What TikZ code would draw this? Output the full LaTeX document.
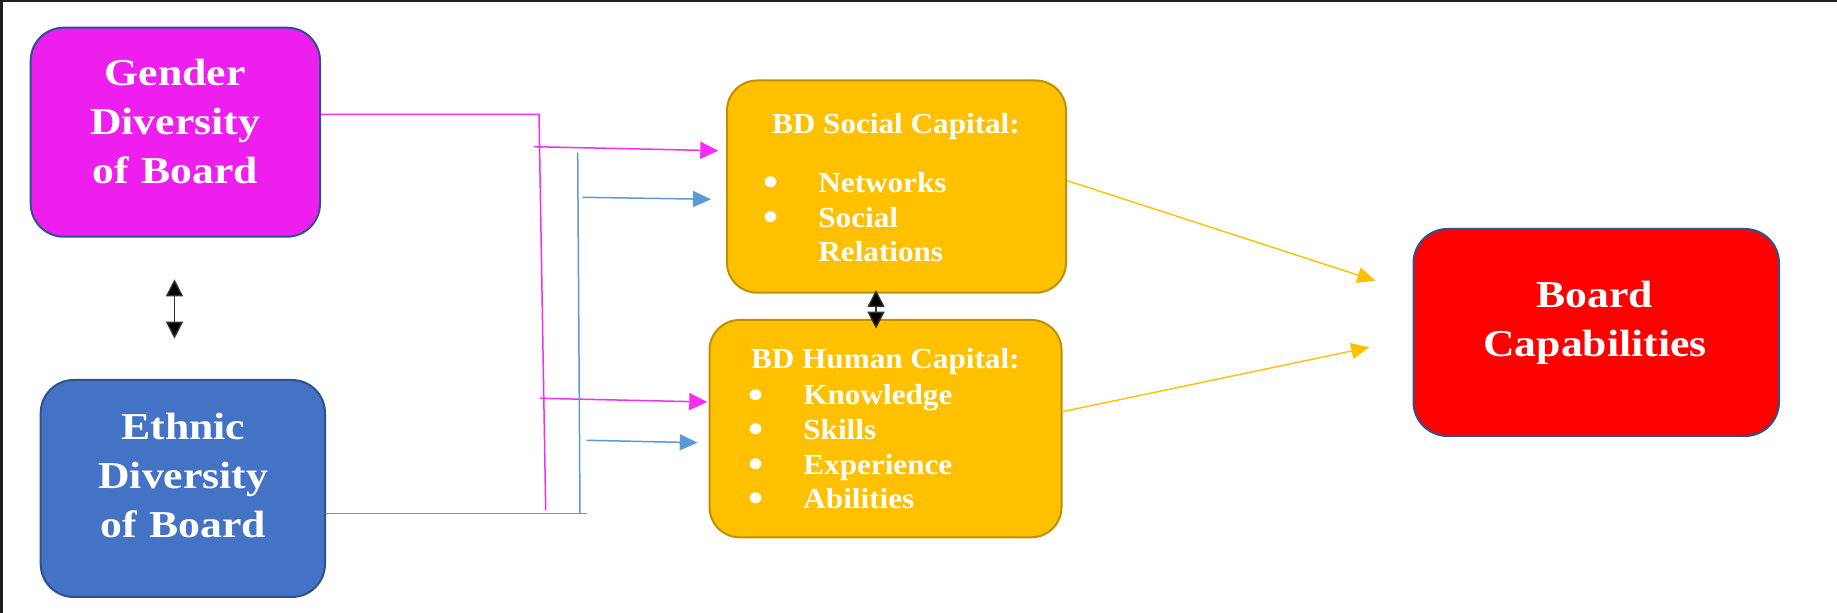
\documentclass[tikz,border=0pt]{standalone}
\usepackage{fontspec}
\setmainfont{Liberation Serif}
\newfontfamily\bigfont[FakeStretch=1.15]{Liberation Serif}
\newfontfamily\smallfont[FakeStretch=1.075]{Liberation Serif}
\usetikzlibrary{arrows.meta}

\definecolor{magentafill}{RGB}{238,30,238}
\definecolor{magentaline}{RGB}{245,45,245}
\definecolor{bluefill}{HTML}{4472C4}
\definecolor{boxedge}{HTML}{2F528F}
\definecolor{bluelink}{HTML}{5B9BD5}
\definecolor{goldfill}{HTML}{FFC000}
\definecolor{goldedge}{HTML}{BF9000}
\definecolor{screenframe}{RGB}{30,31,34}

% list bullet: a slightly enlarged, lowered dot in a fixed-width slot
\newcommand\itembul{\makebox[27.5pt][l]{\raisebox{-1.6pt}{\fontsize{20}{0}\selectfont\textbullet}}}

\begin{document}
\begin{tikzpicture}[x=0.5pt,y=-0.5pt,
  box/.style={draw, line width=1pt, inner sep=0pt},
  bigtext/.style={text=white, inner sep=0pt, text width=150pt, align=center,
    font=\bigfont\bfseries\fontsize{19}{24.5}\selectfont},
  smalltext/.style={text=white, inner sep=0pt,
    font=\smallfont\bfseries\fontsize{14.5}{17.3}\selectfont},
  listtext/.style={smalltext, text width=140pt, align=left},
  pinklink/.style={draw=magentaline, line width=0.75pt},
  bluelinkstyle/.style={draw=bluelink, line width=0.75pt},
  pinkarrow/.style={pinklink, -{Triangle[length=9pt,width=8.5pt]}},
  bluearrow/.style={bluelinkstyle, -{Triangle[length=9pt,width=8pt]}},
  goldarrow/.style={draw=goldfill, line width=0.7pt, -{Triangle[length=9pt,width=8pt]}},
  twoway/.style={draw=black!80, line width=0.7pt,
    {Triangle[length=8.5pt,width=8.5pt,fill=black]}-{Triangle[length=8.5pt,width=8.5pt,fill=black]}}
]
\useasboundingbox (0,0) rectangle (1837,613);
\fill[white] (0,0) rectangle (1837,613);
% dark window edge along the top and left
\fill[screenframe] (0,0) rectangle (1837,2);
\fill[screenframe] (0,0) rectangle (3,613);

% boxes
\node[box, fill=magentafill, draw=boxedge, rounded corners=16.5pt,
  minimum width=144.65pt, minimum height=104.5pt] (gender) at (175.35,132.2) {};
\node[box, fill=bluefill, draw=boxedge, rounded corners=16.5pt,
  minimum width=142.15pt, minimum height=108.5pt] (ethnic) at (182.85,488.5) {};
\node[box, fill=goldfill, draw=goldedge, rounded corners=15pt,
  minimum width=169.5pt, minimum height=106.1pt] (social) at (896.5,186.6) {};
\node[box, fill=goldfill, draw=goldedge, rounded corners=15pt,
  minimum width=176pt, minimum height=108.65pt] (human) at (885.5,428.65) {};
\node[box, fill=red, draw=boxedge, rounded corners=17pt,
  minimum width=182.75pt, minimum height=103.5pt] (capab) at (1596.25,332.5) {};

% box texts
\node[bigtext, anchor=base] (genderText) at (175,86) {Gender\\Diversity\\of Board};
\node[bigtext, anchor=base] (ethnicText) at (183.3,440) {Ethnic\\Diversity\\of Board};
\node[bigtext, anchor=base] (capabText) at (1595,307.3) {Board\\Capabilities};

\node[smalltext, anchor=base west] (socialHead) at (771.7,133.3) {BD Social Capital:};
\node[listtext, anchor=base west] (socialList) at (763,192.7)
  {\itembul Networks\\\itembul Social\\\hspace*{27.5pt}Relations};
\node[smalltext, anchor=base west] (humanHead) at (750.7,368.7) {BD Human Capital:};
\node[listtext, anchor=base west] (humanList) at (748,405)
  {\itembul Knowledge\\\itembul Skills\\\itembul Experience\\\itembul Abilities};

% gender diversity feed
\coordinate (gTurn) at (539,114.3);
\coordinate (gDrop) at (545.7,510.3);
\draw[pinklink] (gender.east |- gTurn) -- (gTurn) -- (gDrop);
\coordinate (gA) at (534,146.7);
\coordinate (gAend) at (718.3,150.7);
\coordinate (gB) at (540,398.3);
\coordinate (gBend) at (707.3,402);
\draw[pinkarrow] (gA) -- (gAend);
\draw[pinkarrow] (gB) -- (gBend);

% ethnic diversity feed
\coordinate (eTurn) at (586.7,513.3);
\coordinate (eTop) at (577.7,152.7);
\coordinate (eBot) at (580,513.3);
\draw[bluelinkstyle] (ethnic.east |- eTurn) -- (eTurn);
\draw[bluelinkstyle] (eTop) -- (eBot);
\coordinate (eA) at (582.3,197.3);
\coordinate (eAend) at (711,199.3);
\coordinate (eB) at (586.7,440.3);
\coordinate (eBend) at (697.7,442.7);
\draw[bluearrow] (eA) -- (eAend);
\draw[bluearrow] (eB) -- (eBend);

% capital to capabilities
\coordinate (cA) at (1375.3,280.7);
\coordinate (cB) at (1369.3,347.3);
\draw[goldarrow] ([yshift=3pt]social.east) -- (cA);
\draw[goldarrow] ([yshift=8.5pt]human.east) -- (cB);

% two-way links
\coordinate (gu) at (174.5,279.3);
\coordinate (gd) at (174.5,338.7);
\draw[twoway] (gu) -- (gd);
\coordinate (mu) at (876,290);
\coordinate (md) at (876,328.7);
\draw[twoway] (mu) -- (md);
\end{tikzpicture}
\end{document}
